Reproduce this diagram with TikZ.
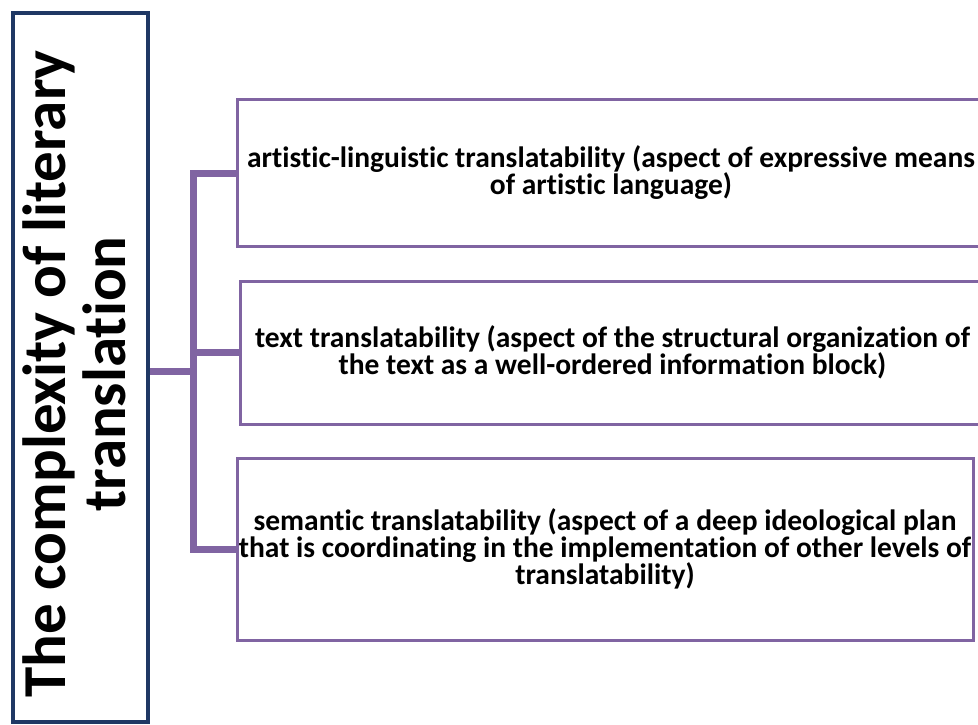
\documentclass[tikz,border=0pt]{standalone}
\usepackage{fontspec}
\setmainfont{Carlito}[Ligatures=NoCommon]
\usetikzlibrary{shadows}
\definecolor{navy}{HTML}{1F3864}
\definecolor{purp}{HTML}{8064A2}
\begin{document}
\begin{tikzpicture}[x=1pt,y=-1pt,
  mainbox/.style={draw=navy,line width=4pt,fill=white,minimum width=135pt,minimum height=709pt,inner sep=0pt,
     drop shadow={opacity=0.2,shadow xshift=2pt,shadow yshift=-2pt}},
  itembox/.style={draw=purp,line width=3pt,fill=white,inner sep=0pt,align=center,
     font=\fontsize{29.5}{27}\selectfont\bfseries,
     drop shadow={opacity=0.2,shadow xshift=2pt,shadow yshift=-2pt}},
  conn/.style={draw=purp,line width=7pt}]
\useasboundingbox (0,0) rectangle (978,725);
\fill[white] (0,0) rectangle (978,725);
\node[mainbox] (main) at (80.5,367.5) {};
\node[rotate=90,align=center,font=\fontsize{61}{60}\selectfont\bfseries] (title) at (74,374)
  {The complexity of literary\\translation};
\node[itembox,minimum width=748pt,minimum height=146pt] (b1) at (611,173)
  {artistic-linguistic translatability (aspect of expressive means\\of artistic language)};
\node[itembox,minimum width=745pt,minimum height=143pt] (b2) at (612.5,352.5)
  {text translatability (aspect of the structural organization of\\the text as a well-ordered information block)};
\node[itembox,minimum width=736pt,minimum height=182pt] (b3) at (605,549)
  {semantic translatability (aspect of a deep ideological plan\\that is coordinating in the implementation of other levels of\\translatability)};
\coordinate (j) at (193,371);
\draw[conn] (main.east |- j) -- (j);
\draw[conn] (b1.west) -| (j) |- (b3.west);
\draw[conn] (b2.west) -- (b2.west -| j);
\end{tikzpicture}
\end{document}
